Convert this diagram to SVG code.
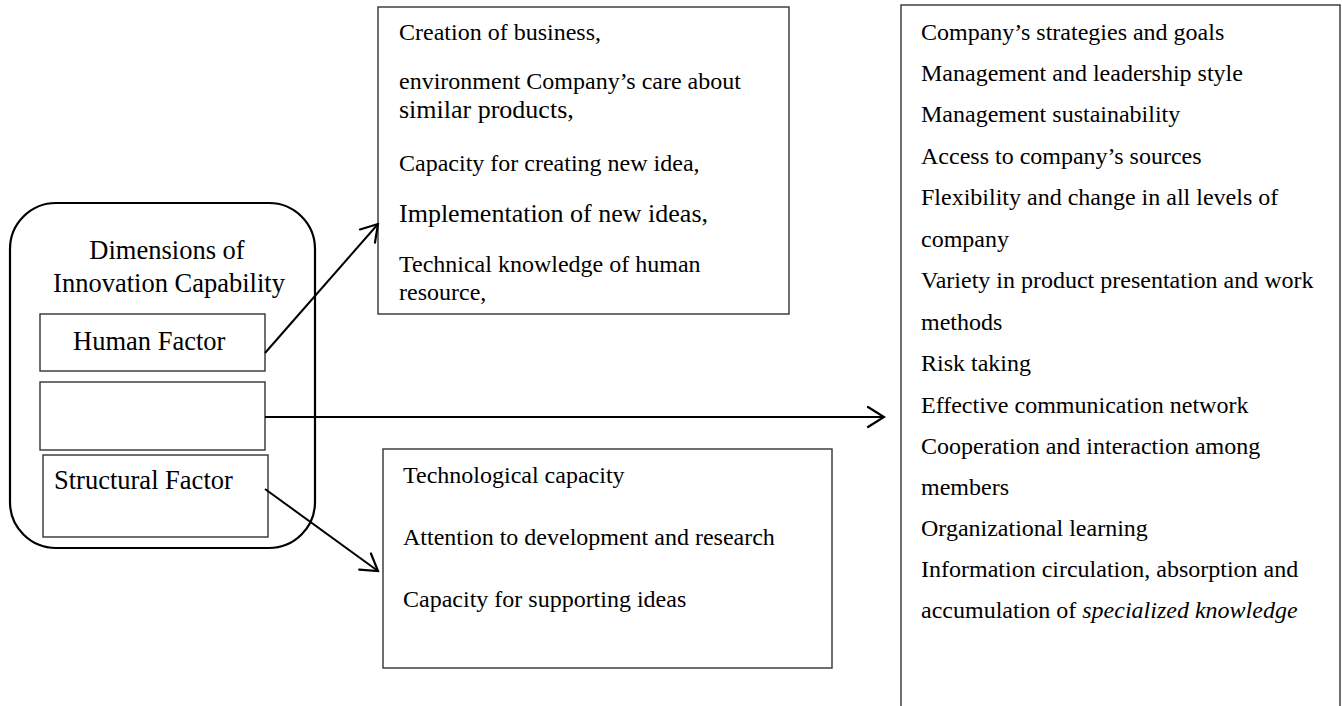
<svg xmlns="http://www.w3.org/2000/svg" width="1342" height="706" viewBox="0 0 1342 706">
  <style>
    text { font-family: "Liberation Serif", "Times New Roman", serif; fill: #000; }
    .box { fill: #fff; stroke: #333; stroke-width: 1.4; }
    .outer { fill: #fff; stroke: #000; stroke-width: 2.2; }
    .t24 { font-size: 24px; }
    .t26 { font-size: 26px; }
    .lbl { font-size: 26.5px; }
    .conn { stroke: #000; stroke-width: 2; fill: none; marker-end: url(#open); }
  </style>
  <defs>
    <marker id="open" viewBox="0 0 20 24" refX="18" refY="12" markerWidth="20" markerHeight="24" markerUnits="userSpaceOnUse" orient="auto">
      <path d="M2,2 L18,12 L2,22" fill="none" stroke="#000" stroke-width="2.2" stroke-linecap="round" stroke-linejoin="miter"/>
    </marker>
  </defs>

  <rect width="1342" height="706" fill="#fff"/>

  <!-- Dimensions container with its three factor boxes -->
  <g id="dimensions">
    <rect class="outer" x="10" y="203" width="305" height="345" rx="46" ry="46"/>
    <text class="lbl" x="167" y="259" text-anchor="middle">Dimensions of</text>
    <text class="lbl" x="169" y="292" text-anchor="middle">Innovation Capability</text>
  </g>
  <g id="human-factor">
    <rect class="box" x="40" y="314" width="225" height="57"/>
    <text class="lbl" x="73" y="350">Human Factor</text>
  </g>
  <g id="middle-factor">
    <rect class="box" x="40" y="382" width="225" height="68"/>
  </g>
  <g id="structural-factor">
    <rect class="box" x="43" y="455" width="225" height="82"/>
    <text class="lbl" x="54" y="489">Structural Factor</text>
  </g>

  <!-- Human factor items -->
  <g id="human-items">
    <rect class="box" x="378" y="7" width="411" height="307"/>
    <text class="t24" x="399" y="40">Creation of business,</text>
    <text class="t24" x="399" y="89">environment Company’s care about</text>
    <text class="t26" x="399" y="118">similar products,</text>
    <text class="t24" x="399" y="171">Capacity for creating new idea,</text>
    <text class="t26" x="399" y="222">Implementation of new ideas,</text>
    <text class="t24" x="399" y="272">Technical knowledge of human</text>
    <text class="t24" x="399" y="300">resource,</text>
  </g>

  <!-- Structural factor items -->
  <g id="structural-items">
    <rect class="box" x="383" y="449" width="449" height="219"/>
    <text class="t24" x="403" y="483">Technological capacity</text>
    <text class="t24" x="403" y="545">Attention to development and research</text>
    <text class="t24" x="403" y="607">Capacity for supporting ideas</text>
  </g>

  <!-- Organisational items -->
  <g id="organizational-items">
    <rect class="box" x="901" y="5" width="439" height="720"/>
    <g class="t24">
      <text x="921" y="40">Company’s strategies and goals</text>
      <text x="921" y="81">Management and leadership style</text>
      <text x="921" y="122">Management sustainability</text>
      <text x="921" y="164">Access to company’s sources</text>
      <text x="921" y="205">Flexibility and change in all levels of</text>
      <text x="921" y="247">company</text>
      <text x="921" y="288">Variety in product presentation and work</text>
      <text x="921" y="330">methods</text>
      <text x="921" y="371">Risk taking</text>
      <text x="921" y="413">Effective communication network</text>
      <text x="921" y="454">Cooperation and interaction among</text>
      <text x="921" y="495">members</text>
      <text x="921" y="536">Organizational learning</text>
      <text x="921" y="577">Information circulation, absorption and</text>
      <text x="921" y="618">accumulation of <tspan font-style="italic">specialized knowledge</tspan></text>
    </g>
  </g>

  <!-- Connectors -->
  <g id="connectors">
    <line class="conn" x1="265" y1="353" x2="378" y2="224"/>
    <line class="conn" x1="265" y1="417" x2="884" y2="417"/>
    <line class="conn" x1="265" y1="489" x2="378" y2="571"/>
  </g>
</svg>
